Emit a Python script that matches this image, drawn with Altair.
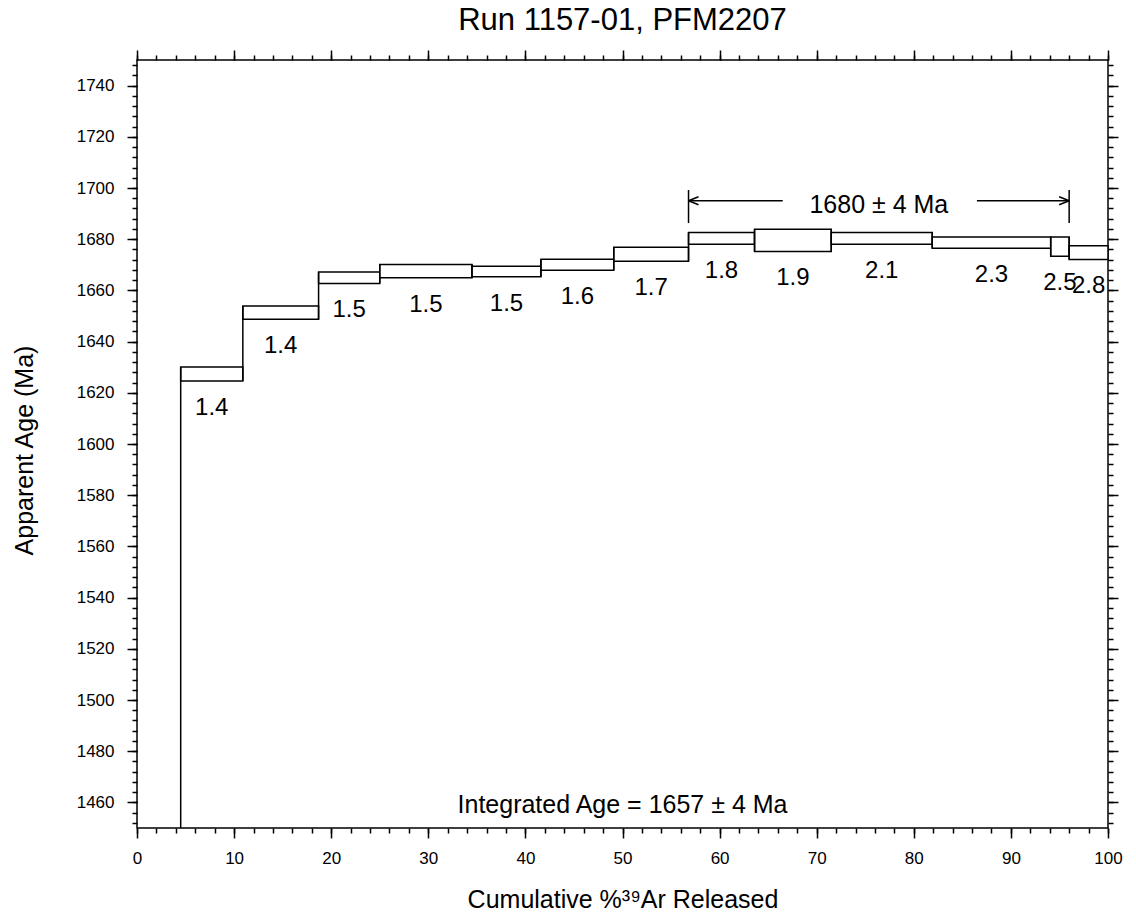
import altair as alt
import pandas as pd

# ---- data ----
cum_start = [4.5, 10.9, 18.7, 25.0, 34.5, 41.6, 49.1, 56.8, 63.6, 71.5, 81.9, 94.1, 96.0]
cum_end = [10.9, 18.7, 25.0, 34.5, 41.6, 49.1, 56.8, 63.6, 71.5, 81.9, 94.1, 96.0, 100.0]
age_low = [1624.6, 1648.7, 1662.7, 1664.9, 1665.3, 1667.9, 1671.4, 1678.0, 1675.2, 1678.0, 1676.5, 1673.3, 1672.1]
age_high = [1630.1, 1653.9, 1667.2, 1670.1, 1669.4, 1672.2, 1676.9, 1682.6, 1683.9, 1682.6, 1680.9, 1680.9, 1677.4]
step_labels = ["1.4", "1.4", "1.5", "1.5", "1.5", "1.6", "1.7", "1.8", "1.9", "2.1", "2.3", "2.5", "2.8"]

x_major = list(range(0, 101, 10))
x_minor = list(range(0, 101, 2))
y_major = list(range(1460, 1741, 20))
y_minor = list(range(1452, 1750, 4))

plateau_start = 56.8
plateau_end = 96.0
plateau_level = 1695.0
plateau_bar = [1686.3, 1699.2]
plateau_gap = [66.5, 86.5]
plateau_text = "1680 \u00b1 4 Ma"
integrated_text = "Integrated Age = 1657 \u00b1 4 Ma"
chart_title = "Run 1157-01, PFM2207"
age_min, age_max = 1450, 1750

FONT = "Liberation Sans"

df = pd.DataFrame({"x0": cum_start, "x1": cum_end, "lo": age_low, "hi": age_high, "label": step_labels})
df["mid"] = (df["x0"] + df["x1"]) / 2

# vertical risers joining consecutive steps
riser_df = pd.DataFrame({
    "x": cum_end[:-1],
    "y": [min(a, b) for a, b in zip(age_low[:-1], age_low[1:])],
    "y2": [max(a, b) for a, b in zip(age_high[:-1], age_high[1:])],
})
# first step's riser from the bottom of the scale
riser_df = pd.concat([riser_df, pd.DataFrame({"x": [cum_start[0]], "y": [age_min], "y2": [age_high[0]]})],
                     ignore_index=True)

xscale = alt.Scale(domain=[0, 100], nice=False, zero=False)
yscale = alt.Scale(domain=[age_min, age_max], nice=False, zero=False)


def axis(orient, values, size, **kw):
    return alt.Axis(orient=orient, values=values, tickSize=size, tickWidth=1.5,
                    tickColor="black", domain=False, grid=False, **kw)


lab = dict(labels=True, labelFont=FONT, labelFontSize=17, labelColor="black",
           labelFlush=False, labelOverlap=False, format="d")
ttl = dict(titleFont=FONT, titleFontSize=25, titleFontWeight="normal", titleColor="black",
           titleBaseline="alphabetic")

steps = alt.Chart(df).mark_rect(fill="white", stroke="black", strokeWidth=1.5).encode(
    x=alt.X("x0:Q", scale=xscale, title="Cumulative %\u00b3\u2079Ar Released",
            axis=axis("bottom", x_major, 10, labelPadding=12, titleY=79, **lab, **ttl)),
    x2="x1",
    y=alt.Y("lo:Q", scale=yscale, title="Apparent Age (Ma)",
            axis=axis("left", y_major, 10, labelPadding=13, titleX=-105, titleY=390, **lab, **ttl)),
    y2="hi",
)

minor1 = alt.Chart(df).mark_rect(opacity=0).encode(
    x=alt.X("x0:Q", scale=xscale, title=None, axis=axis("bottom", x_minor, 5, labels=False)),
    x2="x1",
    y=alt.Y("lo:Q", scale=yscale, title=None, axis=axis("left", y_minor, 5, labels=False)),
    y2="hi",
)
major2 = alt.Chart(df).mark_rect(opacity=0).encode(
    x=alt.X("x0:Q", scale=xscale, title=None, axis=axis("top", x_major, 10, labels=False)),
    x2="x1",
    y=alt.Y("lo:Q", scale=yscale, title=None, axis=axis("right", y_major, 10, labels=False)),
    y2="hi",
)
minor2 = alt.Chart(df).mark_rect(opacity=0).encode(
    x=alt.X("x0:Q", scale=xscale, title=None, axis=axis("top", x_minor, 5, labels=False)),
    x2="x1",
    y=alt.Y("lo:Q", scale=yscale, title=None, axis=axis("right", y_minor, 5, labels=False)),
    y2="hi",
)

labels = alt.Chart(df).mark_text(font=FONT, fontSize=24, baseline="alphabetic", dy=34, color="black").encode(
    x=alt.X("mid:Q", scale=xscale, axis=None),
    y=alt.Y("lo:Q", scale=yscale, axis=None),
    text="label:N",
)

risers = alt.Chart(riser_df).mark_rule(color="black", strokeWidth=1.5).encode(
    x=alt.X("x:Q", scale=xscale, axis=None),
    y=alt.Y("y:Q", scale=yscale, axis=None),
    y2="y2",
)

bars_df = pd.DataFrame({"x": [plateau_start, plateau_end], "y": [plateau_bar[0]] * 2, "y2": [plateau_bar[1]] * 2})
bars = alt.Chart(bars_df).mark_rule(color="black", strokeWidth=1.5).encode(
    x=alt.X("x:Q", scale=xscale, axis=None),
    y=alt.Y("y:Q", scale=yscale, axis=None),
    y2="y2",
)

lines_df = pd.DataFrame({"x": [plateau_start, plateau_gap[1]], "x2": [plateau_gap[0], plateau_end],
                         "y": [plateau_level] * 2})
lines = alt.Chart(lines_df).mark_rule(color="black", strokeWidth=1.5).encode(
    x=alt.X("x:Q", scale=xscale, axis=None),
    x2="x2",
    y=alt.Y("y:Q", scale=yscale, axis=None),
)

left_head = alt.Chart(pd.DataFrame({"x": [plateau_start], "y": [plateau_level]})).mark_point(
    shape="M0,0L1,-0.4M0,0L1,0.4", size=400, filled=False, color="black", strokeWidth=1.5, opacity=1
).encode(x=alt.X("x:Q", scale=xscale, axis=None), y=alt.Y("y:Q", scale=yscale, axis=None))

right_head = alt.Chart(pd.DataFrame({"x": [plateau_end], "y": [plateau_level]})).mark_point(
    shape="M0,0L-1,-0.4M0,0L-1,0.4", size=400, filled=False, color="black", strokeWidth=1.5, opacity=1
).encode(x=alt.X("x:Q", scale=xscale, axis=None), y=alt.Y("y:Q", scale=yscale, axis=None))

ptext = alt.Chart(pd.DataFrame({"x": [(plateau_start + plateau_end) / 2], "y": [plateau_level],
                                "t": [plateau_text]})).mark_text(
    font=FONT, fontSize=25, baseline="alphabetic", dy=12, color="black"
).encode(x=alt.X("x:Q", scale=xscale, axis=None), y=alt.Y("y:Q", scale=yscale, axis=None), text="t:N")

itext = alt.Chart(pd.DataFrame({"x": [50.0], "y": [age_min], "t": [integrated_text]})).mark_text(
    font=FONT, fontSize=25, baseline="alphabetic", dy=-15, color="black"
).encode(x=alt.X("x:Q", scale=xscale, axis=None), y=alt.Y("y:Q", scale=yscale, axis=None), text="t:N")

chart = alt.layer(
    steps, minor1, major2, minor2, risers, labels, bars, lines, left_head, right_head, ptext, itext
).resolve_axis(x="independent", y="independent").properties(
    width=971,
    height=768,
    title=alt.TitleParams(chart_title, font=FONT, fontSize=31, fontWeight="normal",
                          color="black", anchor="middle", frame="group", offset=12),
    autosize=alt.AutoSizeParams(type="none"),
    padding={"left": 129, "top": 52, "right": 20, "bottom": 85},
).configure_view(stroke="black", strokeWidth=1.5)

chart.save("out.html", embed_options={"renderer": "svg", "actions": False})
